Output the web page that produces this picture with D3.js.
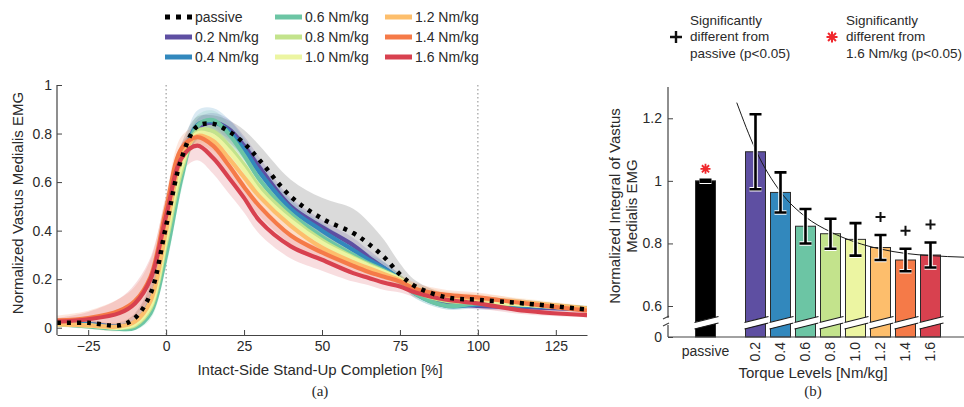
<!DOCTYPE html>
<html>
<head>
<meta charset="utf-8">
<script src="https://cdn.jsdelivr.net/npm/d3@7"></script>
<style>
  body { margin: 0; background: #fff; }
  svg text { font-family: "Liberation Sans", Arial, sans-serif; fill: #2a2a2a; }
</style>
</head>
<body>
<script>
// Datos del panel (a): EMG normalizado vs. porcentaje de completitud
const completion = [-35, -25, -15, -10, -5, 0, 5, 10, 15, 20, 25, 30, 40, 50, 60, 65, 70, 75, 80, 90, 100, 115, 135];

const meanPassive = [0.02, 0.02, 0.01, 0.04, 0.14, 0.42, 0.70, 0.83, 0.84, 0.81, 0.76, 0.69, 0.54, 0.45, 0.39, 0.345, 0.29, 0.22, 0.17, 0.125, 0.115, 0.10, 0.075];
const sdPassive = [0.01, 0.01, 0.01, 0.02, 0.04, 0.06, 0.06, 0.04, 0.035, 0.045, 0.055, 0.06, 0.07, 0.085, 0.10, 0.09, 0.07, 0.045, 0.025, 0.015, 0.015, 0.015, 0.01];

const mean02 = [0.02, 0.015, 0.005, 0.02, 0.10, 0.36, 0.65, 0.82, 0.845, 0.82, 0.75, 0.66, 0.50, 0.415, 0.34, 0.29, 0.245, 0.20, 0.15, 0.105, 0.09, 0.085, 0.075];
const sd02 = [0.01, 0.01, 0.01, 0.015, 0.03, 0.05, 0.05, 0.04, 0.04, 0.04, 0.04, 0.04, 0.035, 0.03, 0.03, 0.03, 0.025, 0.02, 0.02, 0.015, 0.015, 0.015, 0.01];

const mean04 = [0.02, 0.015, 0.005, 0.02, 0.11, 0.37, 0.66, 0.835, 0.85, 0.81, 0.735, 0.64, 0.49, 0.40, 0.32, 0.28, 0.245, 0.20, 0.14, 0.09, 0.095, 0.09, 0.08];
const sd04 = [0.01, 0.01, 0.01, 0.015, 0.03, 0.05, 0.05, 0.06, 0.055, 0.05, 0.045, 0.04, 0.035, 0.03, 0.03, 0.025, 0.025, 0.02, 0.02, 0.015, 0.015, 0.015, 0.01];

const mean06 = [0.015, 0.005, -0.005, 0.0, 0.06, 0.30, 0.62, 0.83, 0.855, 0.80, 0.71, 0.61, 0.47, 0.375, 0.30, 0.265, 0.235, 0.20, 0.14, 0.09, 0.10, 0.095, 0.08];
const sd06 = [0.01, 0.01, 0.01, 0.01, 0.025, 0.05, 0.05, 0.045, 0.04, 0.04, 0.04, 0.04, 0.035, 0.03, 0.025, 0.025, 0.02, 0.02, 0.02, 0.015, 0.015, 0.015, 0.01];

const mean08 = [0.015, 0.01, 0.0, 0.01, 0.08, 0.35, 0.65, 0.81, 0.81, 0.75, 0.67, 0.58, 0.455, 0.36, 0.29, 0.26, 0.23, 0.20, 0.15, 0.11, 0.105, 0.095, 0.075];
const sd08 = [0.01, 0.01, 0.01, 0.015, 0.03, 0.05, 0.05, 0.04, 0.04, 0.04, 0.04, 0.035, 0.03, 0.03, 0.025, 0.025, 0.02, 0.02, 0.02, 0.015, 0.015, 0.015, 0.01];

const mean10 = [0.015, 0.01, 0.0, 0.015, 0.09, 0.37, 0.67, 0.80, 0.79, 0.73, 0.65, 0.56, 0.44, 0.35, 0.285, 0.255, 0.23, 0.20, 0.16, 0.12, 0.11, 0.095, 0.075];
const sd10 = [0.01, 0.01, 0.01, 0.015, 0.03, 0.05, 0.05, 0.04, 0.04, 0.04, 0.04, 0.035, 0.03, 0.03, 0.025, 0.025, 0.02, 0.02, 0.02, 0.015, 0.015, 0.015, 0.01];

const mean12 = [0.015, 0.01, 0.005, 0.025, 0.11, 0.40, 0.70, 0.79, 0.77, 0.70, 0.62, 0.54, 0.42, 0.33, 0.27, 0.245, 0.22, 0.195, 0.16, 0.13, 0.12, 0.105, 0.08];
const sd12 = [0.01, 0.015, 0.02, 0.03, 0.05, 0.06, 0.05, 0.04, 0.04, 0.04, 0.04, 0.04, 0.03, 0.03, 0.025, 0.025, 0.02, 0.02, 0.02, 0.02, 0.02, 0.015, 0.01];

const mean14 = [0.03, 0.04, 0.07, 0.11, 0.21, 0.49, 0.74, 0.785, 0.75, 0.67, 0.58, 0.50, 0.38, 0.31, 0.255, 0.23, 0.21, 0.19, 0.16, 0.135, 0.125, 0.10, 0.07];
const sd14 = [0.02, 0.03, 0.05, 0.06, 0.07, 0.06, 0.05, 0.04, 0.04, 0.04, 0.04, 0.04, 0.035, 0.03, 0.03, 0.025, 0.025, 0.025, 0.025, 0.02, 0.02, 0.015, 0.01];

const mean16 = [0.025, 0.035, 0.06, 0.10, 0.20, 0.46, 0.70, 0.75, 0.70, 0.62, 0.535, 0.44, 0.335, 0.28, 0.225, 0.205, 0.185, 0.17, 0.145, 0.115, 0.10, 0.07, 0.052];
const sd16 = [0.015, 0.03, 0.06, 0.08, 0.09, 0.08, 0.06, 0.06, 0.065, 0.065, 0.06, 0.055, 0.05, 0.045, 0.035, 0.03, 0.03, 0.025, 0.02, 0.02, 0.02, 0.015, 0.01];

// Niveles de torque y colores
const torqueLevels = [0.2, 0.4, 0.6, 0.8, 1.0, 1.2, 1.4, 1.6];
const torqueLabels = ["0.2", "0.4", "0.6", "0.8", "1.0", "1.2", "1.4", "1.6"];
const torqueColors = ["#5e4fa2", "#3288bd", "#6cc5a4", "#c3e38c", "#ecf5a2", "#fdbe6c", "#f57a48", "#d8414f"];

// Datos del panel (b): integral normalizada
const passiveBar = 1.0;
const passiveBarErr = 0.003;
const barMean = [1.093, 0.963, 0.855, 0.831, 0.813, 0.787, 0.747, 0.763];
const barErr = [0.12, 0.064, 0.055, 0.048, 0.052, 0.04, 0.036, 0.04];
const diffFromPassive = ["1.2", "1.4", "1.6"];

// Curva de ajuste
const fitTorque = [0.05, 0.2, 0.4, 0.6, 0.8, 1.0, 1.2, 1.4, 1.6, 1.87];
const fitValue = [1.25, 1.10, 0.965, 0.885, 0.837, 0.804, 0.782, 0.768, 0.761, 0.756];

const series = [
  { name: "0.2", mean: mean02, sd: sd02 },
  { name: "0.4", mean: mean04, sd: sd04 },
  { name: "0.6", mean: mean06, sd: sd06 },
  { name: "0.8", mean: mean08, sd: sd08 },
  { name: "1.0", mean: mean10, sd: sd10 },
  { name: "1.2", mean: mean12, sd: sd12 },
  { name: "1.4", mean: mean14, sd: sd14 },
  { name: "1.6", mean: mean16, sd: sd16 },
].map((s, i) => ({ ...s, color: torqueColors[i] }));

const WIDTH = 964;
const HEIGHT = 407;
const AXIS_COLOR = "#444";

const svg = d3.select("body")
  .append("svg")
  .attr("width", WIDTH)
  .attr("height", HEIGHT);

////////////////////// Panel (a) //////////////////////
const xA = d3.scaleLinear().domain([-35, 135]).range([57, 587]);
const yA = d3.scaleLinear().domain([-0.03, 1]).range([335, 85]);

svg.append("clipPath").attr("id", "clipA")
  .append("rect").attr("x", 57).attr("y", 75).attr("width", 530).attr("height", 262);

const panelA = svg.append("g").attr("clip-path", "url(#clipA)");

// Líneas punteadas en 0 y 100
panelA.selectAll(".vline")
  .data([0, 100])
  .join("line")
  .attr("x1", d => xA(d)).attr("x2", d => xA(d))
  .attr("y1", yA(1)).attr("y2", yA(-0.03))
  .attr("stroke", "#8a8a8a")
  .attr("stroke-width", 1)
  .attr("stroke-dasharray", "1.5,2.5");

const curva = d3.curveCatmullRom.alpha(0.5);

const area = d3.area()
  .x((d, i) => xA(completion[i]))
  .y0(d => yA(d[0] - d[1]))
  .y1(d => yA(d[0] + d[1]))
  .curve(curva);

const line = d3.line()
  .x((d, i) => xA(completion[i]))
  .y(d => yA(d))
  .curve(curva);

// Bandas de desviación
panelA.append("path")
  .attr("d", area(meanPassive.map((m, i) => [m, sdPassive[i]])))
  .attr("fill", "#b5b5b5")
  .attr("opacity", 0.5);

panelA.selectAll(".band")
  .data(series)
  .join("path")
  .attr("class", "band")
  .attr("d", s => area(s.mean.map((m, i) => [m, s.sd[i]])))
  .attr("fill", s => s.color)
  .attr("opacity", 0.18);

// Curvas promedio
panelA.selectAll(".curve")
  .data(series)
  .join("path")
  .attr("class", "curve")
  .attr("d", s => line(s.mean))
  .attr("fill", "none")
  .attr("stroke", s => s.color)
  .attr("stroke-width", 4.2);

panelA.append("path")
  .attr("d", line(meanPassive))
  .attr("fill", "none")
  .attr("stroke", "#000")
  .attr("stroke-width", 4.5)
  .attr("stroke-dasharray", "4,6");

// Ejes
const axisA_X = svg.append("g")
  .attr("transform", `translate(0, ${yA(-0.03)})`)
  .call(d3.axisBottom(xA).tickValues([-25, 0, 25, 50, 75, 100, 125])
    .tickSizeInner(-5).tickSizeOuter(0).tickPadding(6));

const axisA_Y = svg.append("g")
  .attr("transform", `translate(${xA(-35)}, 0)`)
  .call(d3.axisLeft(yA).tickValues([0, 0.2, 0.4, 0.6, 0.8, 1])
    .tickFormat(d => String(d)).tickSizeInner(-5).tickSizeOuter(0).tickPadding(5));

[axisA_X, axisA_Y].forEach(g => {
  g.select(".domain").attr("stroke", AXIS_COLOR).attr("stroke-width", 1.2);
  g.selectAll(".tick line").attr("stroke", AXIS_COLOR);
  g.selectAll("text").attr("font-size", 14).attr("fill", "#2a2a2a");
});
axisA_Y.select(".domain").attr("d", `M0,${yA(1)}V${yA(-0.03)}`);

svg.append("text")
  .attr("x", 320).attr("y", 375)
  .attr("text-anchor", "middle")
  .attr("font-size", 15)
  .text("Intact-Side Stand-Up Completion [%]");

svg.append("text")
  .attr("x", 320).attr("y", 396)
  .attr("text-anchor", "middle")
  .attr("font-size", 15)
  .style("font-family", "'Liberation Serif', 'Times New Roman', serif")
  .text("(a)");

svg.append("text")
  .attr("transform", "translate(23, 203) rotate(-90)")
  .attr("text-anchor", "middle")
  .attr("font-size", 15)
  .text("Normalized Vastus Medialis EMG");

// Leyenda (a)
const legendItems = [{ name: "passive", passive: true }]
  .concat(series.map(s => ({ name: `${s.name} Nm/kg`, color: s.color })));

const legend = svg.append("g")
  .selectAll("g")
  .data(legendItems)
  .join("g")
  .attr("transform", (d, i) => `translate(${165 + Math.floor(i / 3) * 110}, ${17 + (i % 3) * 20})`);

legend.append("line")
  .attr("x1", 0).attr("x2", 27)
  .attr("stroke", d => d.passive ? "#000" : d.color)
  .attr("stroke-width", 5)
  .attr("stroke-dasharray", d => d.passive ? "5,6" : null);

legend.append("text")
  .attr("x", 30)
  .attr("dy", "0.35em")
  .attr("font-size", 14)
  .text(d => d.name);

////////////////////// Panel (b) //////////////////////
const xB = d3.scaleLinear().domain([-0.2, 1.6]).range([705.5, 930.5]);
const yB = d3.scaleLinear().domain([0, 0.6, 1.3]).range([337, 306, 87]);
const BAR_W = 20;

const barData = [{ key: "passive", t: -0.2, v: passiveBar, e: passiveBarErr, color: "#000" }]
  .concat(torqueLevels.map((t, i) => ({ key: torqueLabels[i], t: t, v: barMean[i], e: barErr[i], color: torqueColors[i] })));

const panelB = svg.append("g");

panelB.selectAll(".bar")
  .data(barData)
  .join("rect")
  .attr("class", "bar")
  .attr("x", d => xB(d.t) - BAR_W / 2)
  .attr("width", BAR_W)
  .attr("y", d => yB(d.v))
  .attr("height", d => yB(0) - yB(d.v))
  .attr("fill", d => d.color)
  .attr("stroke", "#2b2b2b")
  .attr("stroke-width", 1);

// Corte del eje dentro de cada barra
const breaks = panelB.selectAll(".brk")
  .data(barData)
  .join("g")
  .attr("class", "brk")
  .attr("transform", d => `translate(${xB(d.t) - BAR_W / 2}, 0)`);

breaks.append("polygon")
  .attr("points", `-2,322.5 ${BAR_W + 3},316.5 ${BAR_W + 3},323 -2,329`)
  .attr("fill", "#fff");

breaks.selectAll("line")
  .data([[322.5, 316.5], [329, 323]])
  .join("line")
  .attr("x1", -1).attr("x2", BAR_W + 3)
  .attr("y1", d => d[0]).attr("y2", d => d[1])
  .attr("stroke", "#1a1a1a")
  .attr("stroke-width", 1.2);

// Curva de ajuste
svg.append("clipPath").attr("id", "clipB")
  .append("rect").attr("x", 668).attr("y", 87).attr("width", 300).attr("height", 250);

panelB.append("path")
  .attr("clip-path", "url(#clipB)")
  .attr("d", d3.line()
    .x((d, i) => xB(fitTorque[i]))
    .y(d => yB(d))
    .curve(d3.curveMonotoneX)(fitValue))
  .attr("fill", "none")
  .attr("stroke", "#1a1a1a")
  .attr("stroke-width", 1);

// Barras de error (con halo blanco)
const errG = panelB.selectAll(".err")
  .data(barData)
  .join("g")
  .attr("class", "err")
  .attr("transform", d => `translate(${xB(d.t)}, 0)`);

const errPath = d => {
  const y1 = yB(d.v + d.e), y0 = yB(d.v - d.e);
  return `M-6,${y1}H6M0,${y1}V${y0}M-6,${y0}H6`;
};

errG.append("path")
  .attr("d", errPath)
  .attr("fill", "none")
  .attr("stroke", "#fff")
  .attr("stroke-width", 4.5);

errG.append("path")
  .attr("d", errPath)
  .attr("fill", "none")
  .attr("stroke", "#000")
  .attr("stroke-width", 2.6);

// Marcadores de significancia
const plusPath = s => `M${-s},0H${s}M0,${-s}V${s}`;
const starPath = s => {
  const k = s * 0.72;
  return `M${-s},0H${s}M0,${-s}V${s}M${-k},${-k}L${k},${k}M${-k},${k}L${k},${-k}`;
};

panelB.selectAll(".plus")
  .data(barData.filter(d => diffFromPassive.includes(d.key)))
  .join("path")
  .attr("class", "plus")
  .attr("transform", d => `translate(${xB(d.t)}, ${yB(d.v + d.e) - 18})`)
  .attr("d", plusPath(5))
  .attr("stroke", "#111")
  .attr("stroke-width", 2);

panelB.append("path")
  .attr("transform", `translate(${xB(-0.2)}, ${yB(passiveBar) - 12})`)
  .attr("d", starPath(5))
  .attr("stroke", "#f0282d")
  .attr("stroke-width", 1.8);

// Ejes (b)
const axisB_Y = svg.append("g")
  .attr("transform", "translate(668, 0)")
  .call(d3.axisLeft(yB).tickValues([0, 0.6, 0.8, 1, 1.2])
    .tickFormat(d => String(d)).tickSizeInner(-5).tickSizeOuter(0).tickPadding(6));
axisB_Y.select(".domain").remove();
axisB_Y.selectAll(".tick line").attr("stroke", AXIS_COLOR);
axisB_Y.selectAll("text").attr("font-size", 14).attr("fill", "#2a2a2a");

// Eje Y con corte
axisB_Y.append("path")
  .attr("d", `M0,${yB(1.3)}V318 M0,325V${yB(0)}`)
  .attr("fill", "none")
  .attr("stroke", AXIS_COLOR)
  .attr("stroke-width", 1.2);
axisB_Y.selectAll(".cut")
  .data([[319, 316], [326, 323]])
  .join("line")
  .attr("class", "cut")
  .attr("x1", -5).attr("x2", 1)
  .attr("y1", d => d[0]).attr("y2", d => d[1])
  .attr("stroke", AXIS_COLOR)
  .attr("stroke-width", 1.2);

svg.append("line")
  .attr("x1", 668).attr("x2", WIDTH)
  .attr("y1", yB(0)).attr("y2", yB(0))
  .attr("stroke", AXIS_COLOR)
  .attr("stroke-width", 1.2);

// Etiquetas del eje X (b)
svg.append("text")
  .attr("x", xB(-0.2)).attr("y", 351)
  .attr("text-anchor", "middle")
  .attr("dy", "0.35em")
  .attr("font-size", 14)
  .text("passive");

svg.selectAll(".tlabel")
  .data(torqueLevels)
  .join("text")
  .attr("class", "tlabel")
  .attr("transform", d => `translate(${xB(d)}, 342) rotate(-90)`)
  .attr("text-anchor", "end")
  .attr("dy", "0.35em")
  .attr("font-size", 14)
  .text((d, i) => torqueLabels[i]);

svg.append("text")
  .attr("x", 813).attr("y", 378)
  .attr("text-anchor", "middle")
  .attr("font-size", 15)
  .text("Torque Levels [Nm/kg]");

svg.append("text")
  .attr("x", 813).attr("y", 396)
  .attr("text-anchor", "middle")
  .attr("font-size", 15)
  .style("font-family", "'Liberation Serif', 'Times New Roman', serif")
  .text("(b)");

svg.append("text")
  .attr("transform", "translate(620, 206) rotate(-90)")
  .attr("text-anchor", "middle")
  .attr("font-size", 15)
  .selectAll("tspan")
  .data(["Normalized Integral of Vastus", "Medialis EMG"])
  .join("tspan")
  .attr("x", 0)
  .attr("dy", (d, i) => i === 0 ? 0 : "1.15em")
  .text(d => d);

// Leyenda (b)
const legendB = [
  { x: 676, marker: "plus", lines: ["Significantly", "different from", "passive (p<0.05)"] },
  { x: 832, marker: "star", lines: ["Significantly", "different from", "1.6 Nm/kg (p<0.05)"] },
];

const lgB = svg.selectAll(".lgb")
  .data(legendB)
  .join("g")
  .attr("class", "lgb")
  .attr("transform", d => `translate(${d.x}, 37)`);

lgB.append("path")
  .attr("d", d => d.marker === "plus" ? plusPath(6) : starPath(5.5))
  .attr("stroke", d => d.marker === "plus" ? "#111" : "#f0282d")
  .attr("stroke-width", d => d.marker === "plus" ? 2.4 : 2);

lgB.append("text")
  .attr("x", 14)
  .attr("font-size", 13.5)
  .selectAll("tspan")
  .data(d => d.lines)
  .join("tspan")
  .attr("x", 14)
  .attr("y", (d, i) => -17 + i * 16.5)
  .attr("dy", "0.35em")
  .text(d => d);
</script>
</body>
</html>
